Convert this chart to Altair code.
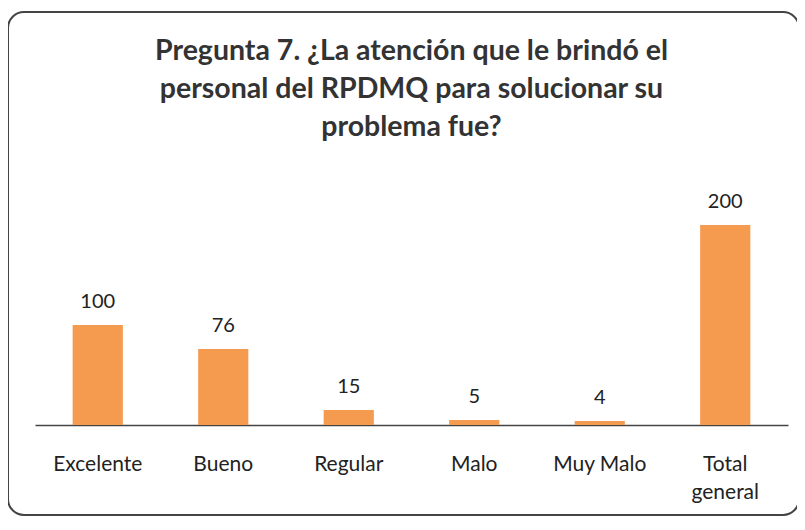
import altair as alt
import pandas as pd

categories = ["Excelente", "Bueno", "Regular", "Malo", "Muy Malo", "Total general"]
values = [100, 76, 15, 5, 4, 200]

df = pd.DataFrame({"cat": categories, "val": values})

title_lines = [
    "Pregunta 7. ¿La atención que le brindó el",
    "personal del RPDMQ para solucionar su",
    "problema fue?",
]

FONT = "Lato"

base = alt.Chart(df).encode(
    x=alt.X(
        "cat:N",
        sort=categories,
        title=None,
        scale=alt.Scale(paddingInner=0.6, paddingOuter=0.3),
        axis=alt.Axis(
            labelExpr="datum.label == 'Total general' ? ['Total', 'general'] : datum.label",
            labelFont=FONT,
            labelFontSize=21,
            labelColor="#222",
            labelPadding=28,
            labelLineHeight=28,
            ticks=False,
            grid=False,
            domainColor="#444",
            domainWidth=1.5,
            labelAngle=0,
        ),
    ),
    y=alt.Y("val:Q", scale=alt.Scale(domain=[0, 220]), axis=None),
)

bars = base.mark_bar(color="#F59B50")
labels = base.mark_text(dy=-17, font=FONT, fontSize=20, color="#222", baseline="alphabetic").encode(
    text="val:Q"
)

frame = alt.Chart(pd.DataFrame({"a": [0]})).mark_rect(
    filled=False, stroke="#444", strokeWidth=2, cornerRadius=16
).encode(
    x=alt.value(-27), x2=alt.value(764), y=alt.value(-193), y2=alt.value(310)
)

chart = (
    alt.layer(frame, bars, labels)
    .properties(
        width=753,
        height=220,
        view=alt.ViewBackground(stroke="white", strokeOpacity=0, strokeWidth=0),
        title=alt.TitleParams(
            text=title_lines,
            font=FONT,
            fontSize=28.5,
            fontWeight="bold",
            color="#333",
            anchor="middle",
            lineHeight=38,
            offset=-130,
        ),
        autosize=alt.AutoSizeParams(type="none"),
        padding={"left": 27, "top": 197, "right": 9, "bottom": 92},
    )
    .configure_view(strokeOpacity=0, strokeWidth=0)
    .configure(background="white")
)

chart.save("out.html", embed_options={"renderer": "svg", "actions": False})
